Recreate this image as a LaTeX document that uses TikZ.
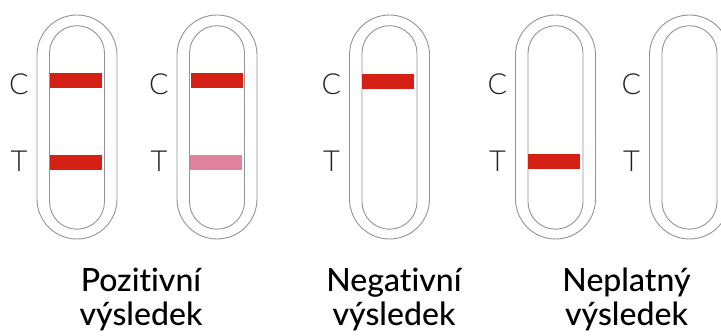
\documentclass[tikz,border=0pt]{standalone}
\usepackage{fontspec}
\setmainfont{Lato Medium}[Ligatures={NoCommon,NoRare}]
\newfontfamily\lightfont{Lato Light}
\definecolor{bandred}{HTML}{D52016}
\definecolor{bandpink}{HTML}{E0829E}
\definecolor{rimgray}{HTML}{939393}
\definecolor{lettercol}{HTML}{231F20}
\begin{document}
\begin{tikzpicture}[x=1pt,y=-1pt,
  rim/.style={draw=rimgray,line width=0.9pt},
  band/.style={fill=bandred,draw=none},
  faint/.style={fill=bandpink,draw=none},
  ctlabel/.style={font=\lightfont\fontsize{29}{29}\selectfont,text=lettercol,inner sep=0pt,anchor=center},
  caption/.style={font=\fontsize{32}{33.5}\selectfont,align=center,inner sep=0pt,anchor=north,text=black}]
\useasboundingbox (0,0) rectangle (721,336);
% strips: outer left edges
\foreach \x/\n in {37/a,177/b,349.5/c,515.5/d,649.5/e}{
  \draw[rim,rounded corners=40pt] (\x,15) rectangle ++(80,224);
  \draw[rim,rounded corners=27.5pt] (\x+12.5,25.7) rectangle ++(55,203.5);
  \node[ctlabel] (C\n) at (\x-18,84) {C};
  \node[ctlabel] (T\n) at (\x-18,161.5) {T};
}
\fill[band] (50,73) rectangle (102,88);
\fill[band] (49.5,154.8) rectangle (101.5,169.8);
\fill[band] (191,73) rectangle (243,88);
\fill[faint] (190,154.8) rectangle (242,169.8);
\fill[band] (362,74) rectangle (414.3,89);
\fill[band] (528,154) rectangle (580,169);
\node[caption] (pos) at (141,268) {Pozitivní\\výsledek};
\node[caption] (neg) at (394,268) {Negativní\\výsledek};
\node[caption] (inv) at (626.5,268) {Neplatný\\výsledek};
\end{tikzpicture}
\end{document}
